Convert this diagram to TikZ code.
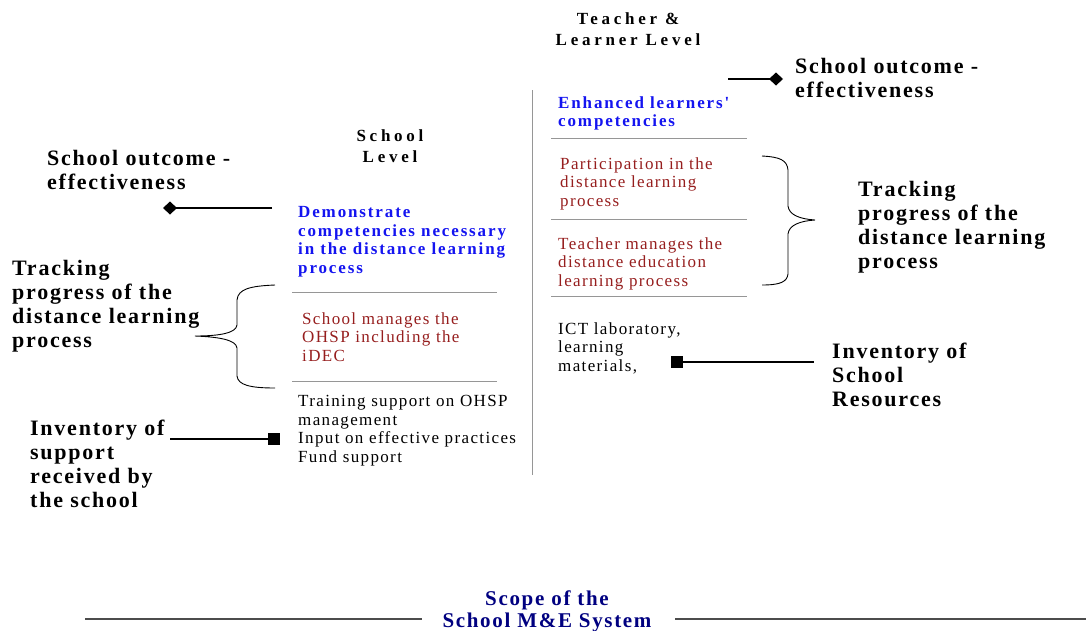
\documentclass[tikz,border=0pt]{standalone}
\usepackage{fontspec}
\setmainfont{Liberation Serif}[LetterSpace=8]
\newfontfamily\lvlfont{Liberation Serif}[LetterSpace=22]
\newfontfamily\wideblue{Liberation Serif}[LetterSpace=11]
\usetikzlibrary{arrows.meta}
\definecolor{outblue}{RGB}{20,20,240}
\definecolor{procred}{RGB}{150,30,30}
\definecolor{scopenavy}{RGB}{0,0,128}
\definecolor{rulegray}{RGB}{150,150,150}

\tikzset{
  head/.style={anchor=north west,inner sep=0pt,align=left,font=\fontsize{22}{24}\selectfont\bfseries},
  body/.style={anchor=north west,inner sep=0pt,align=left,font=\fontsize{17}{18.7}\selectfont},
  outcome/.style={body,text=outblue,font=\fontsize{17}{18.7}\selectfont\wideblue\bfseries},
  process/.style={body,text=procred},
  level/.style={anchor=north,inner sep=0pt,align=center,font=\fontsize{17}{21}\selectfont\lvlfont\bfseries},
  scopetitle/.style={anchor=north,inner sep=0pt,align=center,text=scopenavy,font=\fontsize{21}{22}\selectfont\bfseries},
  sep/.style={draw=rulegray,line width=1pt},
  link/.style={line width=1.2pt},
  brace/.style={line width=0.9pt},
}

\begin{document}
\begin{tikzpicture}[x=1pt,y=-1pt]
\useasboundingbox (0,0) rectangle (1086,630);

% level headings
\node[level] (lvlT) at (628,13) {Teacher \&\\Learner Level};
\node[level] (lvlS) at (390,129) {School\\Level};

% school level column
\node[outcome] (demo) at (298,206) {Demonstrate\\competencies necessary\\in the distance learning\\process};
\node[process] (manS) at (302,312) {School manages the\\OHSP including the\\iDEC};
\node[body] (supp) at (298,395) {Training support on OHSP\\management\\Input on effective practices\\Fund support};

% teacher & learner column
\node[outcome] (enh) at (558,96) {Enhanced learners'\\competencies};
\node[process] (part) at (560,157) {Participation in the\\distance learning\\process};
\node[process] (manT) at (558,237) {Teacher manages the\\distance education\\learning process};
\node[body] (ict) at (558,322) {ICT laboratory,\\learning\\materials,};

% labels
\node[head] (outL) at (47,150) {School outcome -\\effectiveness};
\node[head] (trackL) at (12,260) {Tracking\\progress of the\\distance learning\\process};
\node[head] (invL) at (30,420) {Inventory of\\support\\received by\\the school};
\node[head] (outR) at (795,58) {School outcome -\\effectiveness};
\node[head] (trackR) at (858,181) {Tracking\\progress of the\\distance learning\\process};
\node[head] (invR) at (832,343) {Inventory of\\School\\Resources};

\node[scopetitle] (scope) at (547,590.5) {Scope of the\\School M\&E System};

% separators
\draw[sep] (532,90) -- (532,475);
\draw[sep] (292,292) -- (497,292);
\draw[sep] (292,381) -- (497,381);
\draw[sep] (551,138) -- (747,138);
\draw[sep] (551,219) -- (747,219);
\draw[sep] (551,296) -- (747,296);
\draw[link,draw=black!70] (85,619) -- (422,619);
\draw[link,draw=black!70] (675,619) -- (1086,619);

% connectors
\coordinate (dLa) at (272,208);
\coordinate (dLb) at (163,208);
\coordinate (dRa) at (728,79);
\coordinate (dRb) at (783,79);
\coordinate (sLa) at (170,439);
\coordinate (sLb) at (280,439);
\coordinate (sRa) at (671,362);
\coordinate (sRb) at (814,362);
\draw[link,-{Diamond[length=14pt,width=13pt]}] (dLa) -- (dLb);
\draw[link,-{Diamond[length=14pt,width=13pt]}] (dRa) -- (dRb);
\draw[link,-{Square[length=12pt,width=12pt]}] (sLa) -- (sLb);
\draw[link,{Square[length=12pt,width=12pt]}-] (sRa) -- (sRb);

% braces
\draw[brace] (275,285) .. controls (250,286) and (238,289) .. (237,300) -- (237,325)
  .. controls (236,333) and (220,336) .. (195,336)
  .. controls (220,337) and (236,340) .. (237,348) -- (237,376)
  .. controls (238,385) and (250,388) .. (275,388);
\draw[brace] (762,156) .. controls (780,157) and (787,160) .. (788,170) -- (788,206)
  .. controls (789,215) and (800,219) .. (815,220)
  .. controls (800,221) and (789,225) .. (788,234) -- (788,274)
  .. controls (787,282) and (780,285) .. (762,285);
\end{tikzpicture}
\end{document}
